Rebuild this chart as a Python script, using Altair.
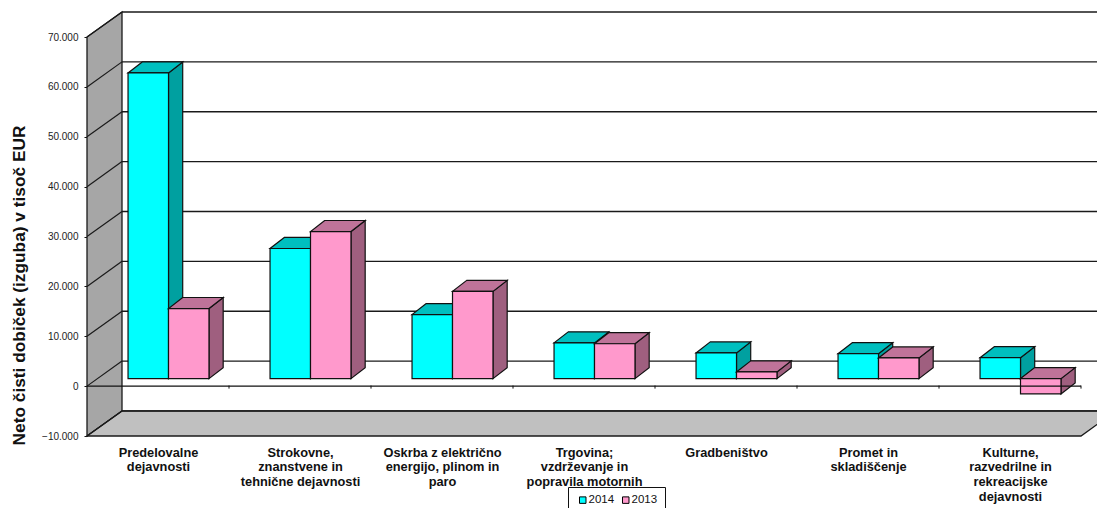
import json
import altair as alt
import pandas as pd

CATEGORIES = [
    ["Predelovalne", "dejavnosti"],
    ["Strokovne,", "znanstvene in", "tehnične dejavnosti"],
    ["Oskrba z električno", "energijo, plinom in", "paro"],
    ["Trgovina;", "vzdrževanje in", "popravila motornih"],
    ["Gradbeništvo"],
    ["Promet in", "skladiščenje"],
    ["Kulturne,", "razvedrilne in", "rekreacijske", "dejavnosti"],
]
VALUES_2014 = [61300, 26100, 12850, 7170, 5160, 5000, 4200]
VALUES_2013 = [14060, 29500, 17500, 7000, 1350, 4150, -3070]
SERIES = ["2014", "2013"]
TICKS = list(range(-10000, 70001, 10000))

FRONT = {"2014": "#00FFFF", "2013": "#FF99CC"}
TOP = {"2014": "#00BFBF", "2013": "#BF7399"}
SIDE = {"2014": "#00A0A0", "2013": "#9F5F7F"}
LINE = "#1a1a1a"

# oblique projection of the chart box, in axis units
N = len(CATEGORIES)
X_MAX = 1010 / 142
Y_MIN, Y_MAX = -10000, 75020
BOX_DX, BOX_DY = 0.2465, 5020
BAR_OFF_X, BAR_OFF_Y = 0.074, 1500
BAR_DX, BAR_DY = 0.1, 2210
BAR_W, BAR_GAP = 0.285, 0.215

xs = alt.Scale(domain=[0, X_MAX], nice=False, zero=False)
ys = alt.Scale(domain=[Y_MIN, Y_MAX], nice=False, zero=False)

label_expr = f"{json.dumps(CATEGORIES, ensure_ascii=False)}[floor(datum.value)]"
x_axis = alt.Axis(
    values=[i + 0.5 for i in range(N)], labelExpr=label_expr, title=None,
    ticks=False, domain=False, grid=False, labelFont="Liberation Sans",
    labelFontWeight="bold", labelFontSize=12.8, labelColor="#111",
    labelLineHeight=14.7, labelPadding=10, labelOverlap=False, labelFlush=False,
    labelBound=False, labelAngle=0,
)
y_axis = alt.Axis(
    values=TICKS, labelExpr="replace(format(datum.value, ','), ',', '.')",
    title="Neto čisti dobiček (izguba) v tisoč EUR", titleFont="Liberation Sans",
    titleFontWeight="bold", titleFontSize=17.3, titleColor="#111", titleX=-59, titleY=273,
    tickSize=3, tickColor="#111", domain=False, grid=False, labelFont="Liberation Sans",
    labelFontSize=10, labelColor="#222", labelPadding=6,
)
X = lambda f="x": alt.X(f, type="quantitative", scale=xs, axis=x_axis)
Y = lambda f="y": alt.Y(f, type="quantitative", scale=ys, axis=y_axis, stack=None)
X2 = alt.X2("x2")
Y2 = alt.Y2("y2")

# faces of the bars
front, side, top = [], [], []
for i in range(N):
    for s, (name, vals) in enumerate(zip(SERIES, (VALUES_2014, VALUES_2013))):
        v = vals[i]
        hi, lo = max(v, 0) + BAR_OFF_Y, min(v, 0) + BAR_OFF_Y
        x0 = i + BAR_OFF_X + BAR_GAP + s * BAR_W
        x1 = x0 + BAR_W
        key = f"{i}-{s}"
        front.append(dict(series=name, x=x0, x2=x1, y=hi, y2=lo))
        side += [
            dict(series=name, key=key, x=x1, y=hi, y2=lo),
            dict(series=name, key=key, x=x1 + BAR_DX, y=hi + BAR_DY, y2=lo + BAR_DY),
        ]
        top += [
            dict(series=name, key=key, x=x0, x2=x1, y=hi),
            dict(series=name, key=key, x=x0 + BAR_DX, x2=x1 + BAR_DX, y=hi + BAR_DY),
        ]
front, side, top = map(pd.DataFrame, (front, side, top))

wall = pd.DataFrame([
    dict(x=0, y=Y_MIN, y2=70000),
    dict(x=BOX_DX, y=Y_MIN + BOX_DY, y2=70000 + BOX_DY),
])
floor = pd.DataFrame([
    dict(x=0, x2=N, y=Y_MIN),
    dict(x=BOX_DX, x2=N + BOX_DX, y=Y_MIN + BOX_DY),
])
grid = pd.DataFrame([dict(x=BOX_DX, x2=X_MAX, y=t + BOX_DY) for t in TICKS])
diag = pd.DataFrame([dict(x=0, x2=BOX_DX, y=t, y2=t + BOX_DY) for t in TICKS])
zero = pd.DataFrame([dict(x=0, x2=N, y=0)])
cat_ticks = pd.DataFrame([dict(x=i, y=-500, y2=120) for i in range(1, N + 1)])

stroke = dict(stroke=LINE, strokeWidth=1.3)
layers = [
    alt.Chart(wall).mark_area(fill="#A6A6A6", **stroke).encode(x=X(), y=Y(), y2=Y2),
    alt.Chart(floor).mark_area(fill="#C0C0C0", orient="horizontal", **stroke).encode(x=X(), x2=X2, y=Y()),
    alt.Chart(grid).mark_rule(color=LINE, strokeWidth=1.4).encode(x=X(), x2=X2, y=Y()),
    alt.Chart(diag).mark_rule(color=LINE, strokeWidth=1.2).encode(x=X(), x2=X2, y=Y(), y2=Y2),
]

color = alt.Color("series:N", scale=alt.Scale(domain=SERIES, range=[FRONT[s] for s in SERIES]),
                  legend=alt.Legend(
                      orient="none", legendX=481, legendY=475, direction="horizontal", columns=2,
                      title=None, fillColor="white", strokeColor="#111", padding=7,
                      symbolType="square", symbolSize=42, symbolStrokeColor="black",
                      symbolStrokeWidth=1, symbolOffset=2, labelFont="Liberation Sans",
                      labelFontSize=11.5, labelColor="#111", labelOffset=0, columnPadding=3,
                  ), sort=SERIES)
bar_line = dict(stroke="#111", strokeWidth=1.2)
for s in SERIES:
    layers += [
        alt.Chart(side[side.series == s]).mark_area(fill=SIDE[s], **bar_line).encode(
            x=X(), y=Y(), y2=Y2, detail="key:N"),
        alt.Chart(top[top.series == s]).mark_area(fill=TOP[s], orient="horizontal", **bar_line).encode(
            x=X(), x2=X2, y=Y(), detail="key:N"),
        alt.Chart(front[front.series == s]).mark_rect(**bar_line).encode(
            x=X(), x2=X2, y=Y(), y2=Y2, color=color),
    ]

layers += [
    alt.Chart(zero).mark_rule(color="#111", strokeWidth=1.3).encode(x=X(), x2=X2, y=Y()),
    alt.Chart(cat_ticks).mark_rule(color="#111", strokeWidth=1).encode(x=X(), y=Y(), y2=Y2),
]

chart = alt.layer(*layers).properties(
    width=1010, height=424,
    padding={"left": 79, "top": 4, "right": 0, "bottom": 72},
    autosize=alt.AutoSizeParams(type="none"),
).configure_view(stroke=None)

chart.save("out.html", embed_options={"renderer": "svg", "actions": False})
